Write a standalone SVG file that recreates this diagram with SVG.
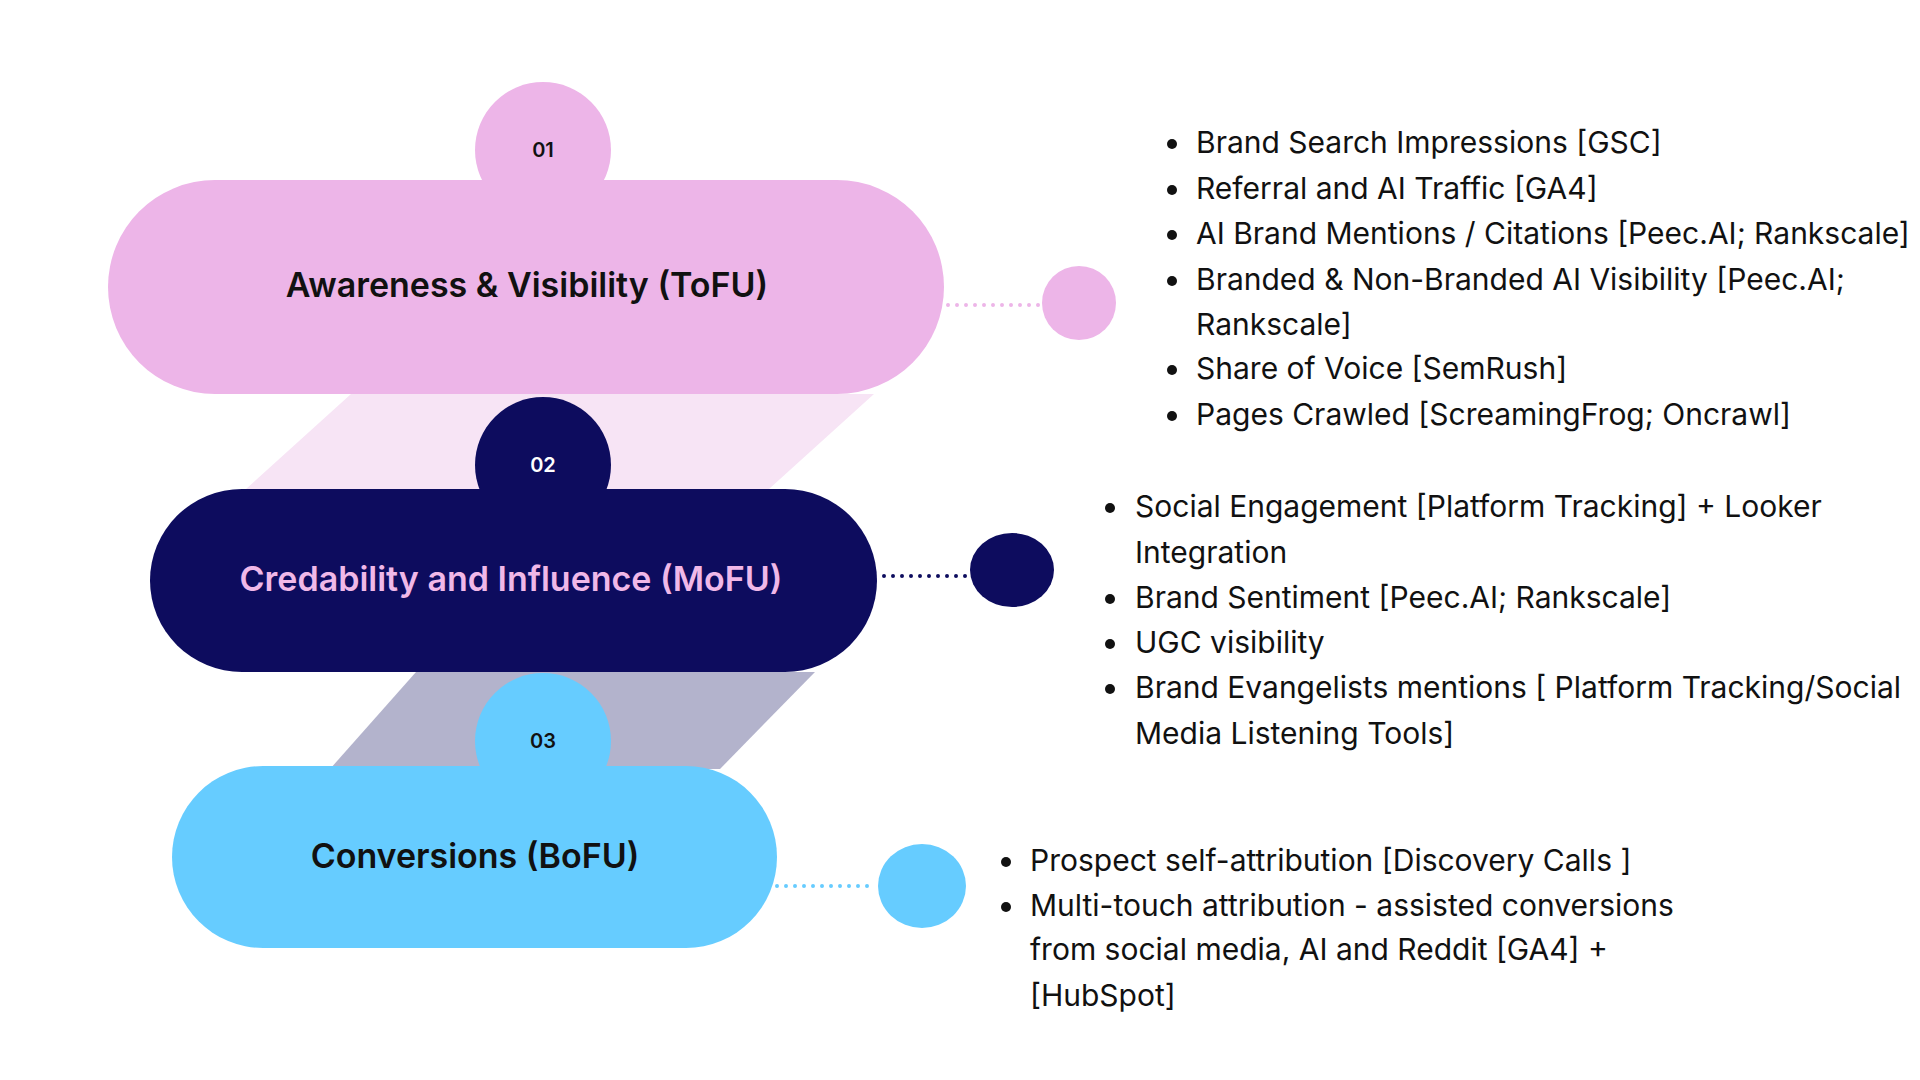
<svg xmlns="http://www.w3.org/2000/svg" width="1920" height="1080" viewBox="0 0 1920 1080">
<style>
text{font-family:Inter,"Liberation Sans",sans-serif;}
.t{font-size:34px;font-weight:600;text-anchor:middle;dominant-baseline:middle}
.n{font-size:20px;font-weight:600;text-anchor:middle;dominant-baseline:middle}
.b{font-size:30px;fill:#111;dominant-baseline:middle}
.dot{fill:#111}
</style>
<rect width="1920" height="1080" fill="#fff"/>
<polygon points="351,394 874,394 769,489 246,489" fill="#f7e4f5"/>
<polygon points="416,672 815,672 720,769 330,769" fill="#b3b3cc"/>
<g id="node1">
<circle cx="543" cy="150" r="68" fill="#edb5e8"/>
<rect x="108" y="180" width="836" height="214" rx="107" fill="#edb5e8"/>
<text class="n" x="543" y="152" fill="#111">01</text>
<text class="t" x="527" y="288" fill="#111">Awareness &amp; Visibility (ToFU)</text>
</g>
<g id="node2">
<circle cx="543" cy="465" r="68" fill="#0d0c5e"/>
<rect x="150" y="489" width="727" height="183" rx="92" fill="#0d0c5e"/>
<text class="n" x="543" y="467" fill="#fff">02</text>
<text class="t" x="511" y="582" fill="#f0b8e8">Credability and Influence (MoFU)</text>
</g>
<g id="node3">
<circle cx="543" cy="741" r="68" fill="#66ccff"/>
<rect x="172" y="766" width="605" height="182" rx="91" fill="#66ccff"/>
<text class="n" x="543" y="743" fill="#111">03</text>
<text class="t" x="475" y="859" fill="#111">Conversions (BoFU)</text>
</g>
<g id="connectors" stroke-width="4" stroke-linecap="round" stroke-dasharray="0 9" fill="none">
<line x1="948" y1="305" x2="1040" y2="305" stroke="#edb5e8"/>
<line x1="884" y1="576" x2="966" y2="576" stroke="#0d0c5e"/>
<line x1="777" y1="886" x2="874" y2="886" stroke="#66ccff"/>
</g>
<g id="ends">
<circle cx="1079" cy="303" r="37" fill="#edb5e8"/>
<ellipse cx="1012" cy="570" rx="42" ry="37" fill="#0d0c5e"/>
<ellipse cx="922" cy="886" rx="44" ry="42" fill="#66ccff"/>
</g>
<g id="list1">
<circle class="dot" cx="1172" cy="144" r="5"/><text class="b" x="1196" y="145">Brand Search Impressions [GSC]</text>
<circle class="dot" cx="1172" cy="190" r="5"/><text class="b" x="1196" y="191">Referral and AI Traffic [GA4]</text>
<circle class="dot" cx="1172" cy="235" r="5"/><text class="b" x="1196" y="236">AI Brand Mentions / Citations [Peec.AI; Rankscale]</text>
<circle class="dot" cx="1172" cy="281" r="5"/><text class="b" x="1196" y="282">Branded &amp; Non-Branded AI Visibility  [Peec.AI;</text>
<text class="b" x="1196" y="327">Rankscale]</text>
<circle class="dot" cx="1172" cy="370" r="5"/><text class="b" x="1196" y="371">Share of Voice [SemRush]</text>
<circle class="dot" cx="1172" cy="416" r="5"/><text class="b" x="1196" y="417">Pages Crawled [ScreamingFrog; Oncrawl]</text>
</g>
<g id="list2">
<circle class="dot" cx="1110" cy="508" r="5"/><text class="b" x="1135" y="509">Social Engagement [Platform Tracking] + Looker</text>
<text class="b" x="1135" y="555">Integration</text>
<circle class="dot" cx="1110" cy="599" r="5"/><text class="b" x="1135" y="600">Brand Sentiment [Peec.AI; Rankscale]</text>
<circle class="dot" cx="1110" cy="644" r="5"/><text class="b" x="1135" y="645">UGC visibility</text>
<circle class="dot" cx="1110" cy="689" r="5"/><text class="b" x="1135" y="690">Brand Evangelists mentions [ Platform Tracking/Social</text>
<text class="b" x="1135" y="736">Media Listening Tools]</text>
</g>
<g id="list3">
<circle class="dot" cx="1006" cy="862" r="5"/><text class="b" x="1030" y="863">Prospect self-attribution [Discovery Calls ]</text>
<circle class="dot" cx="1006" cy="907" r="5"/><text class="b" x="1030" y="908">Multi-touch attribution - assisted conversions</text>
<text class="b" x="1030" y="952">from social media, AI and Reddit  [GA4] +</text>
<text class="b" x="1030" y="998">[HubSpot]</text>
</g>
</svg>
